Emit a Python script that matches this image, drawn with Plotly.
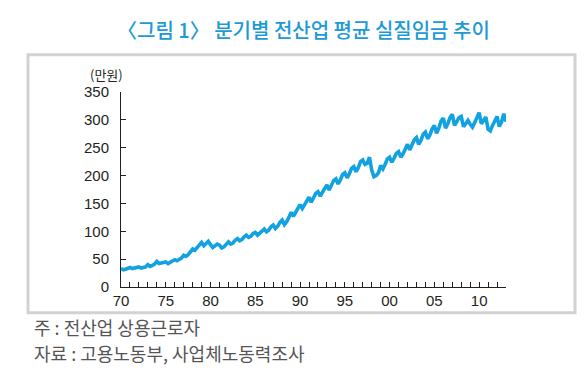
import plotly.graph_objects as go

# Quarterly average real wage, all industries (만원), Q1..Q4 per year
values_1970s = [33, 31, 32, 33,  35, 33, 34, 35,  36, 34, 35, 36,  40, 37, 39, 41,
                46, 42, 43, 44,  45, 42, 44, 46,  49, 47, 49, 52,  57, 55, 58, 62,
                68, 66, 70, 74,  80, 74, 77, 82]
values_1980s = [76, 71, 74, 77,  75, 70, 72, 77,  81, 77, 79, 84,  87, 83, 85, 90,
                93, 89, 91, 96,  98, 93, 96, 101,  104, 99, 102, 108,  111, 105, 109, 116,
                120, 112, 117, 125,  134, 127, 134, 143]
values_1990s = [148, 141, 148, 156,  161, 152, 159, 168,  171, 163, 170, 178,  183, 174, 181, 191,
                194, 185, 192, 202,  205, 196, 203, 213,  216, 207, 214, 225,  228, 220, 222, 233,
                210, 198, 200, 205,  218, 212, 220, 230]
values_2000s = [233, 224, 231, 240,  243, 233, 239, 247,  256, 246, 254, 264,  268, 256, 263, 274,
                278, 266, 273, 284,  290, 276, 285, 298,  303, 285, 293, 304,  310, 290, 297, 304,
                306, 288, 293, 299,  292, 287, 295, 303]
values_2010s = [313, 293, 298, 305,  283, 280, 290, 300,  306, 288, 296, 311,  297]

wages = values_1970s + values_1980s + values_1990s + values_2000s + values_2010s
quarter_labels = [f"{y}Q{q}" for y in range(1970, 2014) for q in range(1, 5)][:len(wages)]
x_pos = [int(s[:4]) + (int(s[-1]) - 1) / 4 for s in quarter_labels]

tick_years = [1970, 1975, 1980, 1985, 1990, 1995, 2000, 2005, 2010]
tick_text = ["70", "75", "80", "85", "90", "95", "00", "05", "10"]
y_ticks = [0, 50, 100, 150, 200, 250, 300, 350]

# page body adds an 8px offset; work in page pixels and shift
OFF = 8
W, H = 585 - OFF, 390 - OFF
L, R, T, B = 121 - OFF, 506 - OFF, 92.3 - OFF, 287.3 - OFF


def px(xp):
    return (xp - OFF - L) / (R - L)


def py(yp):
    return (B - (yp - OFF)) / (B - T)


fig = go.Figure()
fig.add_trace(go.Scatter(x=x_pos, y=wages, mode="lines",
                         line=dict(color="#12a2e2", width=3.6),
                         hoverinfo="skip", showlegend=False))

font_tick = dict(family="Liberation Sans, Arial, sans-serif", size=15, color="#231f20")

fig.update_layout(
    width=W, height=H,
    margin=dict(l=L, r=W - R, t=T, b=H - B, pad=0),
    paper_bgcolor="white", plot_bgcolor="white",
    xaxis=dict(range=[1970, 2013], tickmode="array", tickvals=tick_years, ticktext=tick_text,
               ticks="inside", ticklen=5, tickcolor="#231f20", showline=True,
               linecolor="#231f20", linewidth=1, showgrid=False, zeroline=False,
               tickfont=font_tick,
               minor=dict(tickmode="array", tickvals=list(range(1970, 2014)),
                          ticks="inside", ticklen=5, tickcolor="#231f20", showgrid=False)),
    yaxis=dict(range=[0, 350], tickmode="array", tickvals=y_ticks,
               ticks="inside", ticklen=5, tickcolor="#231f20", showline=True,
               linecolor="#231f20", linewidth=1, showgrid=False, zeroline=False,
               tickfont=font_tick, ticklabelstandoff=8),
)

fig.add_shape(type="rect", xref="paper", yref="paper",
              x0=px(28), x1=px(575), y0=py(313), y1=py(55),
              line=dict(color="#d2d2d2", width=3), fillcolor="rgba(0,0,0,0)", layer="below")

kr = "Noto Sans CJK KR, Noto Sans, sans-serif"
fig.add_annotation(text="〈그림 1〉 분기별 전산업 평균 실질임금 추이", xref="paper", yref="paper",
                   x=px(303), y=py(30), showarrow=False, xanchor="center", yanchor="middle",
                   font=dict(family=kr, size=20, color="#1c9ad6", weight=500))
fig.add_annotation(text="(만원)", xref="paper", yref="paper",
                   x=px(106), y=py(75), showarrow=False, xanchor="center", yanchor="middle",
                   font=dict(family=kr, size=13, color="#231f20"))
fig.add_annotation(text="주 : 전산업 상용근로자", xref="paper", yref="paper",
                   x=px(32), y=py(327), showarrow=False, xanchor="left", yanchor="middle",
                   font=dict(family=kr, size=18, color="#555555"))
fig.add_annotation(text="자료 : 고용노동부, 사업체노동력조사", xref="paper", yref="paper",
                   x=px(32), y=py(353), showarrow=False, xanchor="left", yanchor="middle",
                   font=dict(family=kr, size=18, color="#555555"))

fig.write_html("out.html")
